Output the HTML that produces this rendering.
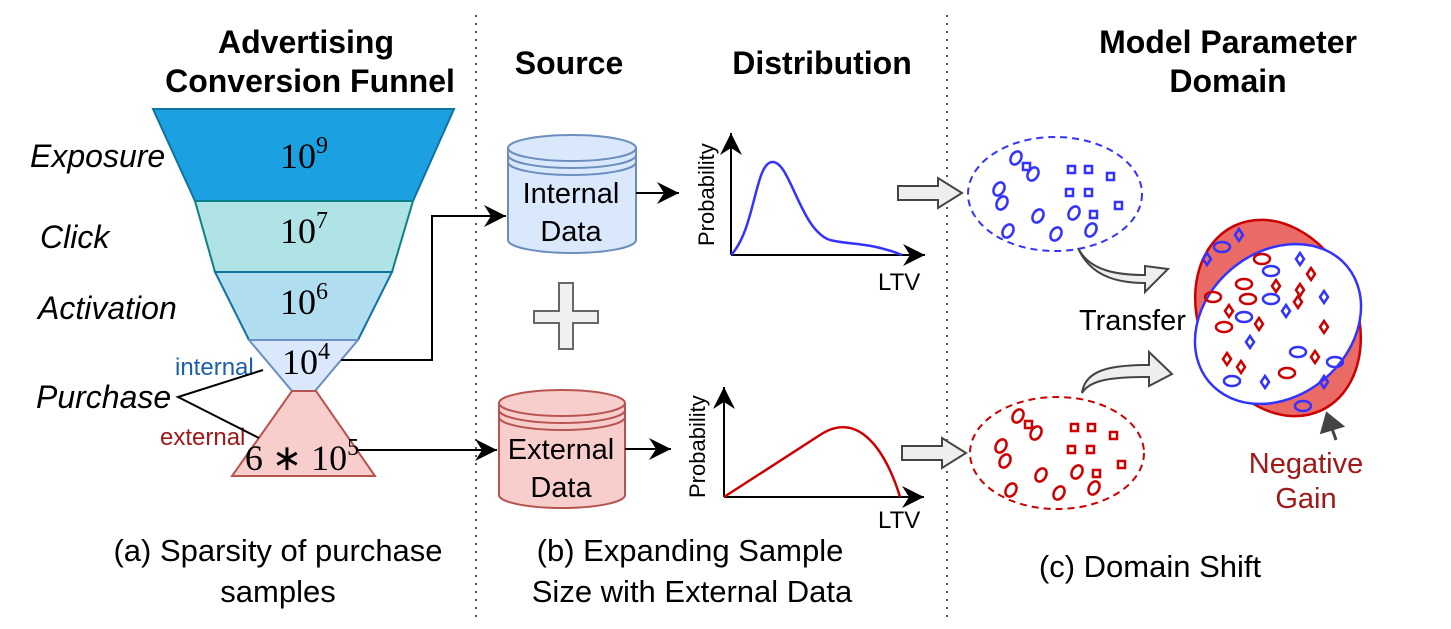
<!DOCTYPE html>
<html><head><meta charset="utf-8"><style>
html,body{margin:0;padding:0;background:#fff;}
svg{display:block;font-family:"Liberation Sans",sans-serif;}
.m{font-family:"Liberation Serif",serif;}
</style></head><body>
<svg width="1451" height="629" viewBox="0 0 1451 629" xmlns="http://www.w3.org/2000/svg">
<defs>
<marker id="ah2" markerWidth="24" markerHeight="22" refX="22" refY="11" orient="auto" markerUnits="userSpaceOnUse"><path d="M0,0 L22,11 L0,22 L7,11z" fill="#000"/></marker>
</defs>
<line x1="476" y1="15" x2="476" y2="620" stroke="#555" stroke-width="2" stroke-dasharray="2,6"/>
<line x1="947" y1="15" x2="947" y2="620" stroke="#555" stroke-width="2" stroke-dasharray="2,6"/>
<g font-weight="bold" font-size="32" text-anchor="middle" fill="#000">
<text x="306" y="53">Advertising</text>
<text x="310" y="92">Conversion Funnel</text>
<text x="569" y="74">Source</text>
<text x="822" y="74">Distribution</text>
<text x="1228" y="53">Model Parameter</text>
<text x="1228" y="92">Domain</text>
</g>
<polygon points="153,109 454,109 413,201 195,201" fill="#1ba1e2" stroke="#10739e" stroke-width="2"/>
<polygon points="195,201 413,201 392,272 215,272" fill="#b0e3e6" stroke="#0e8088" stroke-width="2"/>
<polygon points="215,272 392,272 358,340 249,340" fill="#b1ddf0" stroke="#10739e" stroke-width="2"/>
<polygon points="249,340 358,340 315,391 292,391" fill="#dae8fc" stroke="#6c8ebf" stroke-width="2"/>
<polygon points="292,391 316,391 375,476 232,476" fill="#f8cecc" stroke="#b85450" stroke-width="2"/>
<g class="m" font-size="36" fill="#000" text-anchor="middle">
<text x="304" y="168">10<tspan font-size="24" dy="-15">9</tspan></text>
<text x="304" y="243">10<tspan font-size="24" dy="-15">7</tspan></text>
<text x="304" y="314">10<tspan font-size="24" dy="-15">6</tspan></text>
<text x="306" y="374">10<tspan font-size="24" dy="-15">4</tspan></text>
<text x="302" y="470">6 ∗ 10<tspan font-size="24" dy="-15">5</tspan></text>
</g>
<g font-style="italic" font-size="32" fill="#000">
<text x="30" y="167">Exposure</text>
<text x="40" y="248">Click</text>
<text x="38" y="319">Activation</text>
<text x="36" y="408">Purchase</text>
</g>
<text x="175" y="375" font-size="24" fill="#1a5fa8">internal</text>
<text x="160" y="445" font-size="24" fill="#a01818">external</text>
<polyline points="263,370 178,397 259,438" fill="none" stroke="#000" stroke-width="2"/>
<polyline points="341,360 432,360 432,216 506,216" fill="none" stroke="#000" stroke-width="2" marker-end="url(#ah2)"/>
<line x1="357" y1="450" x2="497" y2="450" stroke="#000" stroke-width="2" marker-end="url(#ah2)"/>
<g stroke="#6c8ebf" stroke-width="2" fill="#dae8fc">
<path d="M508,148 A64,13 0 0 1 636,148 L636,240 A64,13 0 0 1 508,240 Z"/>
<path d="M508,148 A64,13 0 0 0 636,148 M508,155 A64,13 0 0 0 636,155 M508,162 A64,13 0 0 0 636,162" fill="none"/>
</g>
<g stroke="#b85450" stroke-width="2" fill="#f8cecc">
<path d="M499,403 A63,13 0 0 1 625,403 L625,495 A63,13 0 0 1 499,495 Z"/>
<path d="M499,403 A63,13 0 0 0 625,403 M499,410 A63,13 0 0 0 625,410 M499,417 A63,13 0 0 0 625,417" fill="none"/>
</g>
<g font-size="29" text-anchor="middle" fill="#000">
<text x="571" y="203">Internal</text>
<text x="571" y="241">Data</text>
<text x="561" y="459">External</text>
<text x="561" y="497">Data</text>
</g>
<line x1="636" y1="193" x2="679" y2="193" stroke="#000" stroke-width="2" marker-end="url(#ah2)"/>
<line x1="625" y1="449" x2="671" y2="449" stroke="#000" stroke-width="2" marker-end="url(#ah2)"/>
<path d="M559,283 H573 V311 H598 V323 H573 V349 H559 V323 H534 V311 H559 Z" fill="#f0f0f0" stroke="#666" stroke-width="2"/>
<line x1="731" y1="255" x2="731" y2="133" stroke="#000" stroke-width="2" marker-end="url(#ah2)"/>
<line x1="731" y1="255" x2="925" y2="255" stroke="#000" stroke-width="2" marker-end="url(#ah2)"/>
<path d="M731,255 C755,230 755,163 772,162 C790,160 800,230 830,240 C850,245 870,242 902,255" fill="none" stroke="#3333ff" stroke-width="2.5"/>
<text transform="translate(714,246) rotate(-90)" font-size="22">Probability</text>
<text x="878" y="290" font-size="24">LTV</text>
<line x1="724" y1="497" x2="724" y2="387" stroke="#000" stroke-width="2" marker-end="url(#ah2)"/>
<line x1="724" y1="497" x2="924" y2="497" stroke="#000" stroke-width="2" marker-end="url(#ah2)"/>
<path d="M724,497 L820,435 C838,423 855,425 870,440 C885,455 895,480 900,497" fill="none" stroke="#cc0000" stroke-width="2.5"/>
<text transform="translate(705,498) rotate(-90)" font-size="22">Probability</text>
<text x="878" y="528" font-size="24">LTV</text>
<path d="M898,186 H938 V178 L962,193 L938,208 V200 H898 Z" fill="#eee" stroke="#444" stroke-width="2"/>
<path d="M902,446 H942 V438 L966,453 L942,468 V460 H902 Z" fill="#eee" stroke="#444" stroke-width="2"/>
<ellipse cx="1055" cy="194" rx="87" ry="57" fill="none" stroke="#3333ff" stroke-width="2" stroke-dasharray="7,5"/>
<ellipse cx="1057" cy="453" rx="87" ry="56" fill="none" stroke="#cc0000" stroke-width="2" stroke-dasharray="7,5"/>
<g fill="none" stroke="#3333ff" stroke-width="2.5">
<ellipse cx="1016" cy="158" rx="5" ry="7" transform="rotate(30 1016 158)"/>
<ellipse cx="1033" cy="174" rx="5" ry="7" transform="rotate(30 1033 174)"/>
<ellipse cx="999" cy="189" rx="5" ry="7" transform="rotate(30 999 189)"/>
<ellipse cx="1002" cy="203" rx="5" ry="7" transform="rotate(30 1002 203)"/>
<ellipse cx="1038" cy="216" rx="5" ry="7" transform="rotate(30 1038 216)"/>
<ellipse cx="1074" cy="213" rx="5" ry="7" transform="rotate(30 1074 213)"/>
<ellipse cx="1008" cy="231" rx="5" ry="7" transform="rotate(30 1008 231)"/>
<ellipse cx="1056" cy="234" rx="5" ry="7" transform="rotate(30 1056 234)"/>
<ellipse cx="1091" cy="230" rx="5" ry="7" transform="rotate(30 1091 230)"/>
<rect x="1023" y="163" width="7" height="7"/><rect x="1068" y="166" width="7" height="7"/><rect x="1085" y="166" width="7" height="7"/>
<rect x="1107" y="173" width="7" height="7"/><rect x="1066" y="189" width="7" height="7"/><rect x="1085" y="189" width="7" height="7"/>
<rect x="1115" y="202" width="7" height="7"/><rect x="1090" y="211" width="7" height="7"/>
</g>
<g fill="none" stroke="#cc0000" stroke-width="2.5">
<ellipse cx="1018" cy="416" rx="5" ry="7" transform="rotate(30 1018 416)"/>
<ellipse cx="1036" cy="433" rx="5" ry="7" transform="rotate(30 1036 433)"/>
<ellipse cx="1001" cy="446" rx="5" ry="7" transform="rotate(30 1001 446)"/>
<ellipse cx="1005" cy="461" rx="5" ry="7" transform="rotate(30 1005 461)"/>
<ellipse cx="1041" cy="475" rx="5" ry="7" transform="rotate(30 1041 475)"/>
<ellipse cx="1077" cy="472" rx="5" ry="7" transform="rotate(30 1077 472)"/>
<ellipse cx="1011" cy="490" rx="5" ry="7" transform="rotate(30 1011 490)"/>
<ellipse cx="1059" cy="493" rx="5" ry="7" transform="rotate(30 1059 493)"/>
<ellipse cx="1094" cy="488" rx="5" ry="7" transform="rotate(30 1094 488)"/>
<rect x="1025" y="421" width="7" height="7"/><rect x="1071" y="424" width="7" height="7"/><rect x="1088" y="424" width="7" height="7"/>
<rect x="1110" y="432" width="7" height="7"/><rect x="1068" y="446" width="7" height="7"/><rect x="1087" y="446" width="7" height="7"/>
<rect x="1118" y="461" width="7" height="7"/><rect x="1093" y="470" width="7" height="7"/>
</g>
<path d="M1078,248 C1090,272 1120,275 1145,275 V266 L1168,269 L1145,292 V283 C1115,283 1090,275 1078,248 Z" fill="#eee" stroke="#444" stroke-width="2"/>
<path d="M1082,393 C1085,370 1110,365 1149,365 V352 L1172,374 L1149,386 V377 C1110,377 1090,380 1082,393 Z" fill="#eee" stroke="#444" stroke-width="2"/>
<text x="1079" y="330" font-size="29">Transfer</text>
<ellipse cx="1278" cy="318" rx="78" ry="102" transform="rotate(-25 1278 318)" fill="#ea6b66" stroke="#cc0000" stroke-width="2.5"/>
<ellipse cx="1278" cy="324" rx="72" ry="90" transform="rotate(50 1278 324)" fill="#fff" stroke="#3333ff" stroke-width="2.5"/>
<g fill="none" stroke="#3333ff" stroke-width="2.5">
<ellipse cx="1222" cy="247" rx="8" ry="5"/><ellipse cx="1271" cy="271" rx="8" ry="5"/><ellipse cx="1271" cy="299" rx="8" ry="5"/>
<ellipse cx="1244" cy="317" rx="8" ry="5"/><ellipse cx="1298" cy="352" rx="8" ry="5"/><ellipse cx="1232" cy="381" rx="8" ry="5"/>
<ellipse cx="1335" cy="362" rx="8" ry="5"/><ellipse cx="1303" cy="406" rx="8" ry="5"/>
<path d="M1239,229 l4,6 -4,6 -4,-6z"/><path d="M1207,253 l4,6 -4,6 -4,-6z"/><path d="M1300,253 l4,6 -4,6 -4,-6z"/>
<path d="M1324,291 l4,6 -4,6 -4,-6z"/><path d="M1286,305 l4,6 -4,6 -4,-6z"/><path d="M1250,336 l4,6 -4,6 -4,-6z"/>
<path d="M1265,376 l4,6 -4,6 -4,-6z"/><path d="M1324,376 l4,6 -4,6 -4,-6z"/>
</g>
<g fill="none" stroke="#cc0000" stroke-width="2.5">
<ellipse cx="1262" cy="259" rx="8" ry="5"/><ellipse cx="1244" cy="284" rx="8" ry="5"/><ellipse cx="1213" cy="297" rx="8" ry="5"/>
<ellipse cx="1248" cy="299" rx="8" ry="5"/><ellipse cx="1224" cy="327" rx="8" ry="5"/><ellipse cx="1287" cy="373" rx="8" ry="5"/>
<path d="M1311,268 l4,6 -4,6 -4,-6z"/><path d="M1276,280 l4,6 -4,6 -4,-6z"/><path d="M1300,284 l4,6 -4,6 -4,-6z"/>
<path d="M1298,296 l4,6 -4,6 -4,-6z"/><path d="M1229,305 l4,6 -4,6 -4,-6z"/><path d="M1259,318 l4,6 -4,6 -4,-6z"/>
<path d="M1324,321 l4,6 -4,6 -4,-6z"/><path d="M1227,353 l4,6 -4,6 -4,-6z"/><path d="M1241,361 l4,6 -4,6 -4,-6z"/><path d="M1315,351 l4,6 -4,6 -4,-6z"/>
</g>
<path d="M1336,440 L1328,417 M1322,432 L1327,414 L1342,426 Z" fill="#444" stroke="#444" stroke-width="3"/>
<g font-size="29" fill="#a01818" text-anchor="middle">
<text x="1306" y="473">Negative</text>
<text x="1306" y="508">Gain</text>
</g>
<g font-size="31" fill="#000" text-anchor="middle">
<text x="278" y="561">(a) Sparsity of purchase</text>
<text x="278" y="602">samples</text>
<text x="690" y="561">(b) Expanding Sample</text>
<text x="692" y="602">Size with External Data</text>
<text x="1150" y="577">(c) Domain Shift</text>
</g>
</svg>
</body></html>
